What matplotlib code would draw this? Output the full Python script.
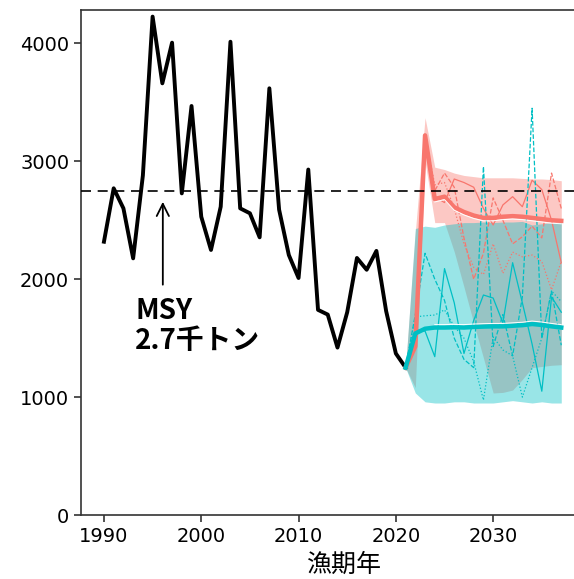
"""漁獲量の推移と将来予測（MSY 水準との比較）"""
import matplotlib

matplotlib.use("Agg")
import matplotlib.pyplot as plt  # noqa: E402

plt.rcParams["font.family"] = ["DejaVu Sans", "Noto Sans CJK JP"]

RED = "#F8766D"
CYAN = "#00BFC4"
JP = ["Noto Sans CJK JP", "DejaVu Sans"]

# --- 実績 (1990-2021) ---
obs_years = list(range(1990, 2022))
obs_catch = [2318, 2771, 2601, 2177, 2880, 4227, 3661, 4006, 2728, 3469,
             2530, 2248, 2615, 4014, 2601, 2559, 2355, 3619, 2590, 2205,
             2010, 2930, 1740, 1700, 1420, 1720, 2180, 2080, 2240, 1730,
             1370, 1250]

msy = 2750

# --- 将来予測 (2021-2037) ---
proj_years = list(range(2021, 2038))

red_mean = [1250, 1430, 3220, 2680, 2700, 2610, 2570, 2540, 2520, 2520,
            2530, 2535, 2530, 2520, 2510, 2500, 2495]
red_lo = [1250, 1080, 3000, 2480, 2480, 2233, 1934, 1628, 1332, 1035,
          1040, 1060, 1150, 1250, 1260, 1270, 1275]
red_hi = [1250, 2400, 3370, 2950, 2930, 2900, 2880, 2870, 2860, 2860,
          2860, 2860, 2855, 2850, 2850, 2845, 2835]

cyan_mean = [1250, 1540, 1580, 1590, 1590, 1592, 1590, 1595, 1598, 1600,
             1600, 1605, 1610, 1620, 1612, 1600, 1590]
cyan_lo = [1250, 1035, 960, 950, 950, 960, 960, 950, 950, 950,
           960, 970, 960, 950, 960, 950, 950]
cyan_hi = [1250, 2430, 2450, 2440, 2460, 2470, 2480, 2480, 2485, 2480,
           2485, 2485, 2490, 2460, 2470, 2480, 2480]

# 平均線に沿う白い細線
white_years = list(range(2024, 2038))
red_white = [2655, 2675, 2585, 2545, 2515, 2495, 2495, 2505, 2510, 2505,
             2495, 2485, 2475, 2470]
cyan_white = [1615, 1615, 1617, 1615, 1620, 1623, 1625, 1625, 1630, 1635,
              1645, 1637, 1625, 1615]

# 個別シミュレーション（細線）
red_sim_solid = [1250, 1430, 3220, 2700, 2650, 2850, 2820, 2780, 2600, 2460,
                 2630, 2700, 2615, 2840, 2760, 2500, 2140]
red_sim_dashed = [1250, 1430, 3220, 2750, 2900, 2780, 2350, 2000, 2220, 2690,
                  2500, 2300, 2360, 2450, 2350, 2900, 2600]
red_sim_dotted = [1250, 1430, 3220, 2800, 2820, 2600, 2300, 2100, 2040, 2300,
                  2050, 2230, 2190, 2205, 2150, 1910, 2150]

cyan_sim_solid = [1250, 1570, 1560, 1343, 2090, 1800, 1370, 1650, 1866, 1840,
                  1630, 2140, 1800, 1450, 1050, 1850, 1720]
cyan_sim_dashed = [1250, 1700, 2220, 2000, 1820, 1500, 1320, 1250, 2955, 1430,
                   1700, 1350, 1850, 3450, 1500, 1900, 1440]
cyan_sim_dotted = [1250, 1680, 1690, 1696, 1740, 1600, 1500, 1300, 975, 1510,
                   1400, 1350, 1000, 1250, 1500, 1900, 1810]


def main() -> None:
    fig = plt.figure(figsize=(5.74, 5.79), dpi=100)
    ax = fig.add_axes([0.1411, 0.1105, 0.9164, 0.8722])

    # 予測区間（シアンを上に重ねて重なり部分を灰色に）
    ax.fill_between(proj_years, red_lo, red_hi, color=RED, alpha=0.4, lw=0, zorder=1)
    ax.fill_between(proj_years, cyan_lo, cyan_hi, color=CYAN, alpha=0.4, lw=0, zorder=2)

    for ys, ls in [(red_sim_solid, "-"), (red_sim_dashed, "--"), (red_sim_dotted, ":")]:
        ax.plot(proj_years, ys, color=RED, lw=0.9, ls=ls, zorder=3)
    for ys, ls in [(cyan_sim_solid, "-"), (cyan_sim_dashed, "--"), (cyan_sim_dotted, ":")]:
        ax.plot(proj_years, ys, color=CYAN, lw=0.9, ls=ls, zorder=3)

    ax.plot(obs_years, obs_catch, color="black", lw=2.8, zorder=4)
    ax.plot(proj_years, red_mean, color=RED, lw=3.2, zorder=5)
    ax.plot(proj_years, cyan_mean, color=CYAN, lw=3.2, zorder=5)
    ax.plot(white_years, red_white, color="white", lw=0.7, zorder=5.5)
    ax.plot(white_years, cyan_white, color="white", lw=0.7, zorder=5.5)

    ax.axhline(msy, color="black", lw=1.2, ls=(0, (6, 4)), zorder=6)

    ax.annotate("", xy=(1996.05, 2680), xytext=(1996.05, 1930),
                arrowprops=dict(arrowstyle="->", color="black", lw=1.3,
                                mutation_scale=22))
    ax.text(1993.2, 1850, "MSY\n2.7千トン", fontsize=20, fontweight="bold",
            va="top", ha="left", linespacing=1.1, family=JP)

    ax.set_xlim(1987.64, 2041.7)
    ax.set_ylim(0, 4283)
    ax.set_xticks([1990, 2000, 2010, 2020, 2030])
    ax.set_yticks([0, 1000, 2000, 3000, 4000])
    ax.tick_params(labelsize=14, length=5, width=1.2, color="#333333")
    for side in ["left", "bottom", "top", "right"]:
        ax.spines[side].set_color("#333333")
        ax.spines[side].set_linewidth(1.2)
    ax.set_xlabel("漁期年", fontsize=18, family=JP, labelpad=4)

    fig.savefig("out.png", dpi=100)


if __name__ == "__main__":
    main()
